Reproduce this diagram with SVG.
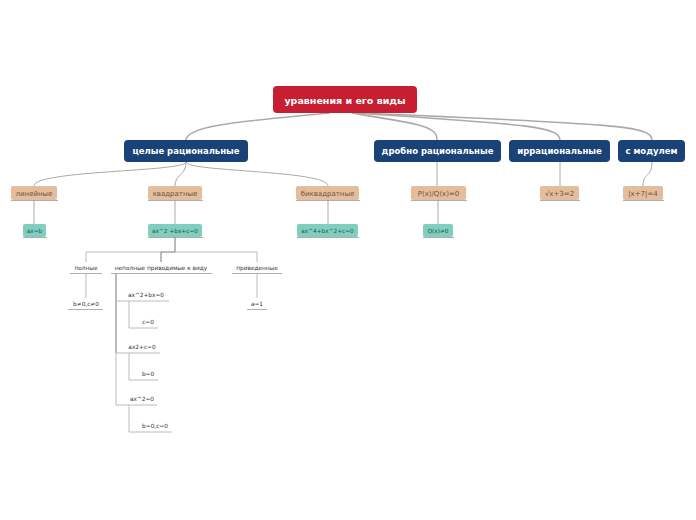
<svg xmlns="http://www.w3.org/2000/svg" width="696" height="520" viewBox="0 0 696 520">
<style>
text{font-family:"DejaVu Sans","Liberation Sans",sans-serif;text-anchor:middle}
.root rect{fill:#c71f31}
.root text{fill:#fff;font-weight:bold;font-size:9.5px}
.main rect{fill:#1a4277}
.main text{fill:#fff;font-weight:bold;font-size:8.5px}
.tan rect{fill:#e3bd9c}
.tan text{fill:#6b5444;font-size:7px}
.teal rect{fill:#7fcfc1}
.teal text{fill:#2f4f4a;font-size:5.8px}
.sub text{fill:#333;font-size:5.8px}
.ul{stroke:#999;stroke-width:0.8}
.c{fill:none;stroke:#aaa;stroke-width:1}
.cr{fill:none;stroke:#aaa;stroke-width:1.6}
.cd{fill:none;stroke:#777;stroke-width:1}
.cl{fill:none;stroke:#bbb;stroke-width:1}
</style>
<g id="connectors">
<path class="cr" d="M330,113 C260,120 186,124 186,140"/>
<path class="cr" d="M352,113 C420,124 437,126 437,140"/>
<path class="cr" d="M356,113 C520,124 560,126 560,140"/>
<path class="cr" d="M360,113 C620,124 652,126 652,140"/>
<path class="c" d="M186,162 C186,172 34,170 34,186"/>
<path class="c" d="M186,162 C186,176 175,174 175,186"/>
<path class="c" d="M186,162 C186,172 328,170 328,186"/>
<path class="c" d="M437,162 L437,186"/>
<path class="c" d="M560,162 L560,186"/>
<path class="c" d="M652,162 C652,178 643,172 643,186"/>
<path class="c" d="M34,200 L34,224"/>
<path class="c" d="M175,200 L175,224"/>
<path class="c" d="M328,200 L328,224"/>
<path class="c" d="M438,200 L438,224"/>
<path class="cd" d="M175,237 L175,252 L161,252 L161,262"/>
<path class="cl" d="M161,252 L86,252 L86,262"/>
<path class="cl" d="M175,252 L257,252 L257,262"/>
<path class="cl" d="M86,274 L86,298"/>
<path class="cl" d="M257,274 L257,298"/>
<path class="cd" d="M116,274 L116,353"/>
<path class="cl" d="M116,353 L116,405"/>
<path class="cl" d="M116,301 L169,301"/>
<path class="cl" d="M116,353 L160,353"/>
<path class="cl" d="M116,405 L157,405"/>
<path class="cl" d="M129,301 L129,328 L158,328"/>
<path class="cl" d="M129,353 L129,380 L158,380"/>
<path class="cl" d="M129,405 L129,432 L172,432"/>
</g>
<g id="root" class="root"><rect x="273" y="86" width="144" height="27" rx="4"/><text x="345" y="103.5">уравнения и его виды</text></g>
<g id="n-celye" class="main"><rect x="124" y="140" width="124" height="22" rx="4"/><text x="186" y="154">целые рациональные</text></g>
<g id="n-drobno" class="main"><rect x="374" y="140" width="127" height="22" rx="4"/><text x="437.5" y="154">дробно рациональные</text></g>
<g id="n-irr" class="main"><rect x="509" y="140" width="101" height="22" rx="4"/><text x="559.5" y="154">иррациональные</text></g>
<g id="n-mod" class="main"><rect x="618" y="140" width="67" height="22" rx="4"/><text x="651.5" y="154">с модулем</text></g>
<g id="n-lin" class="tan"><rect x="11" y="186" width="46" height="14" rx="2"/><line class="ul" x1="11" y1="200.5" x2="58" y2="200.5"/><text x="34" y="195.5">линейные</text></g>
<g id="n-kv" class="tan"><rect x="148" y="186" width="54" height="14" rx="2"/><line class="ul" x1="148" y1="200.5" x2="203" y2="200.5"/><text x="175" y="195.5">квадратные</text></g>
<g id="n-bikv" class="tan"><rect x="296" y="186" width="63" height="14" rx="2"/><line class="ul" x1="296" y1="200.5" x2="360" y2="200.5"/><text x="327.5" y="195.5">биквадратные</text></g>
<g id="n-pq" class="tan"><rect x="411" y="186" width="55" height="14" rx="2"/><line class="ul" x1="411" y1="200.5" x2="467" y2="200.5"/><text x="438.5" y="195.5">P(x)/Q(x)=0</text></g>
<g id="n-sqrt" class="tan"><rect x="540" y="186" width="39" height="14" rx="2"/><line class="ul" x1="540" y1="200.5" x2="580" y2="200.5"/><text x="559.5" y="195.5">√x+3=2</text></g>
<g id="n-abs" class="tan"><rect x="623" y="186" width="40" height="14" rx="2"/><line class="ul" x1="623" y1="200.5" x2="664" y2="200.5"/><text x="643" y="195.5">|x+7|=4</text></g>
<g id="n-axb" class="teal"><rect x="23" y="224" width="23" height="13" rx="2"/><line class="ul" x1="23" y1="237.5" x2="47" y2="237.5"/><text x="34.5" y="233">ax=b</text></g>
<g id="n-ax2" class="teal"><rect x="148" y="224" width="54" height="13" rx="2"/><line class="ul" x1="148" y1="237.5" x2="203" y2="237.5"/><text x="175" y="233">ax^2 +bx+c=0</text></g>
<g id="n-ax4" class="teal"><rect x="297" y="224" width="61" height="13" rx="2"/><line class="ul" x1="297" y1="237.5" x2="359" y2="237.5"/><text x="327.5" y="233">ax^4+bx^2+c=0</text></g>
<g id="n-q" class="teal"><rect x="423" y="224" width="30" height="13" rx="2"/><line class="ul" x1="423" y1="237.5" x2="454" y2="237.5"/><text x="438" y="233">Q(x)≠0</text></g>
<g id="n-poln" class="sub"><text x="86" y="270">полные</text><line class="ul" x1="70" y1="273.5" x2="102" y2="273.5"/></g>
<g id="n-nepoln" class="sub"><text x="161" y="270">неполные приводимые к виду</text><line class="ul" x1="111" y1="273.5" x2="212" y2="273.5"/></g>
<g id="n-priv" class="sub"><text x="257" y="270">приведенные</text><line class="ul" x1="232" y1="273.5" x2="282" y2="273.5"/></g>
<g id="n-bc" class="sub"><text x="86" y="306">b≠0,c≠0</text><line class="ul" x1="68" y1="309.5" x2="103" y2="309.5"/></g>
<g id="n-a1" class="sub"><text x="257" y="306">a=1</text><line class="ul" x1="247" y1="309.5" x2="267" y2="309.5"/></g>
<g id="n-axbx" class="sub"><text x="146" y="297">ax^2+bx=0</text></g>
<g id="n-c0" class="sub"><text x="148" y="324">c=0</text></g>
<g id="n-axc" class="sub"><text x="142" y="349">ax2+c=0</text></g>
<g id="n-b0" class="sub"><text x="148" y="376">b=0</text></g>
<g id="n-ax20" class="sub"><text x="142" y="401">ax^2=0</text></g>
<g id="n-b0c0" class="sub"><text x="155" y="428">b=0,c=0</text></g>
</svg>
